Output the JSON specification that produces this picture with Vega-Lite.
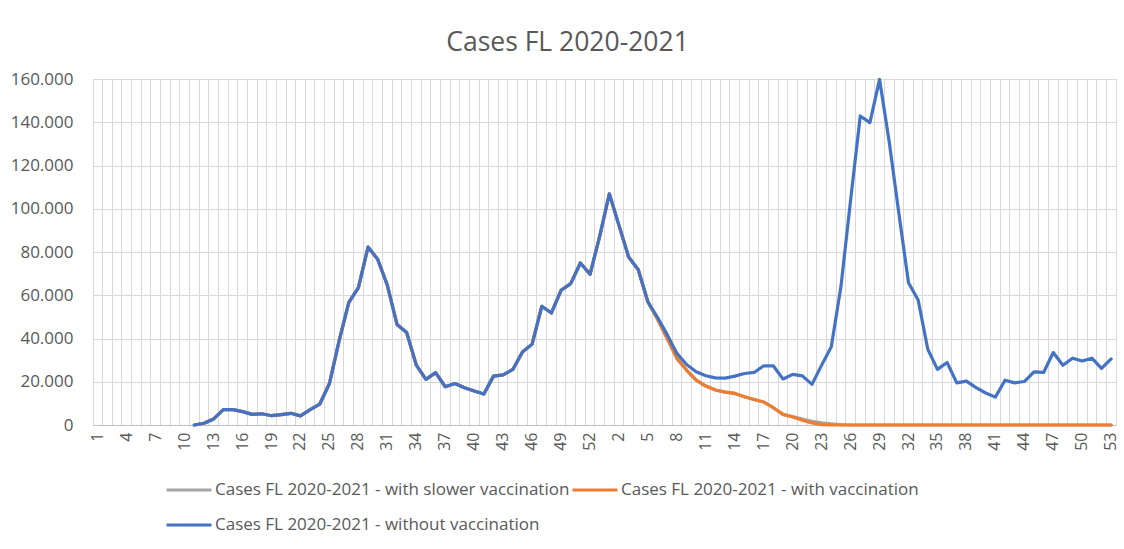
{
  "$schema": "https://vega.github.io/schema/vega-lite/v6.json",
  "autosize": {"type": "none"},
  "width": 1023,
  "height": 346,
  "padding": {"left": 93, "top": 79, "right": 8, "bottom": 124},
  "background": "white",
  "title": {
    "text": "Cases FL 2020-2021",
    "font": "Open Sans",
    "fontSize": 26.5,
    "fontWeight": "normal",
    "color": "#595959",
    "anchor": "middle",
    "frame": "group",
    "baseline": "alphabetic",
    "dx": -37,
    "dy": 33,
    "offset": 26
  },
  "data": {
    "values": [
      {"idx": 0, "year": 2020, "week": 1, "slower": null, "vacc": null, "without": null},
      {"idx": 1, "year": 2020, "week": 2, "slower": null, "vacc": null, "without": null},
      {"idx": 2, "year": 2020, "week": 3, "slower": null, "vacc": null, "without": null},
      {"idx": 3, "year": 2020, "week": 4, "slower": null, "vacc": null, "without": null},
      {"idx": 4, "year": 2020, "week": 5, "slower": null, "vacc": null, "without": null},
      {"idx": 5, "year": 2020, "week": 6, "slower": null, "vacc": null, "without": null},
      {"idx": 6, "year": 2020, "week": 7, "slower": null, "vacc": null, "without": null},
      {"idx": 7, "year": 2020, "week": 8, "slower": null, "vacc": null, "without": null},
      {"idx": 8, "year": 2020, "week": 9, "slower": null, "vacc": null, "without": null},
      {"idx": 9, "year": 2020, "week": 10, "slower": null, "vacc": null, "without": null},
      {"idx": 10, "year": 2020, "week": 11, "slower": 0, "vacc": 0, "without": 0},
      {"idx": 11, "year": 2020, "week": 12, "slower": 800, "vacc": 800, "without": 800},
      {"idx": 12, "year": 2020, "week": 13, "slower": 2800, "vacc": 2800, "without": 2800},
      {"idx": 13, "year": 2020, "week": 14, "slower": 7100, "vacc": 7100, "without": 7100},
      {"idx": 14, "year": 2020, "week": 15, "slower": 7100, "vacc": 7100, "without": 7100},
      {"idx": 15, "year": 2020, "week": 16, "slower": 6200, "vacc": 6200, "without": 6200},
      {"idx": 16, "year": 2020, "week": 17, "slower": 4900, "vacc": 4900, "without": 4900},
      {"idx": 17, "year": 2020, "week": 18, "slower": 5200, "vacc": 5200, "without": 5200},
      {"idx": 18, "year": 2020, "week": 19, "slower": 4300, "vacc": 4300, "without": 4300},
      {"idx": 19, "year": 2020, "week": 20, "slower": 4800, "vacc": 4800, "without": 4800},
      {"idx": 20, "year": 2020, "week": 21, "slower": 5400, "vacc": 5400, "without": 5400},
      {"idx": 21, "year": 2020, "week": 22, "slower": 4200, "vacc": 4200, "without": 4200},
      {"idx": 22, "year": 2020, "week": 23, "slower": 7100, "vacc": 7100, "without": 7100},
      {"idx": 23, "year": 2020, "week": 24, "slower": 9700, "vacc": 9700, "without": 9700},
      {"idx": 24, "year": 2020, "week": 25, "slower": 19200, "vacc": 19200, "without": 19200},
      {"idx": 25, "year": 2020, "week": 26, "slower": 38900, "vacc": 38900, "without": 38900},
      {"idx": 26, "year": 2020, "week": 27, "slower": 56600, "vacc": 56600, "without": 56600},
      {"idx": 27, "year": 2020, "week": 28, "slower": 63500, "vacc": 63500, "without": 63500},
      {"idx": 28, "year": 2020, "week": 29, "slower": 82300, "vacc": 82300, "without": 82300},
      {"idx": 29, "year": 2020, "week": 30, "slower": 76600, "vacc": 76600, "without": 76600},
      {"idx": 30, "year": 2020, "week": 31, "slower": 64600, "vacc": 64600, "without": 64600},
      {"idx": 31, "year": 2020, "week": 32, "slower": 46500, "vacc": 46500, "without": 46500},
      {"idx": 32, "year": 2020, "week": 33, "slower": 42800, "vacc": 42800, "without": 42800},
      {"idx": 33, "year": 2020, "week": 34, "slower": 27700, "vacc": 27700, "without": 27700},
      {"idx": 34, "year": 2020, "week": 35, "slower": 21100, "vacc": 21100, "without": 21100},
      {"idx": 35, "year": 2020, "week": 36, "slower": 24200, "vacc": 24200, "without": 24200},
      {"idx": 36, "year": 2020, "week": 37, "slower": 17700, "vacc": 17700, "without": 17700},
      {"idx": 37, "year": 2020, "week": 38, "slower": 19200, "vacc": 19200, "without": 19200},
      {"idx": 38, "year": 2020, "week": 39, "slower": 17200, "vacc": 17200, "without": 17200},
      {"idx": 39, "year": 2020, "week": 40, "slower": 15700, "vacc": 15700, "without": 15700},
      {"idx": 40, "year": 2020, "week": 41, "slower": 14300, "vacc": 14300, "without": 14300},
      {"idx": 41, "year": 2020, "week": 42, "slower": 22600, "vacc": 22600, "without": 22600},
      {"idx": 42, "year": 2020, "week": 43, "slower": 23200, "vacc": 23200, "without": 23200},
      {"idx": 43, "year": 2020, "week": 44, "slower": 25700, "vacc": 25700, "without": 25700},
      {"idx": 44, "year": 2020, "week": 45, "slower": 33800, "vacc": 33800, "without": 33800},
      {"idx": 45, "year": 2020, "week": 46, "slower": 37400, "vacc": 37400, "without": 37400},
      {"idx": 46, "year": 2020, "week": 47, "slower": 54900, "vacc": 54900, "without": 54900},
      {"idx": 47, "year": 2020, "week": 48, "slower": 51800, "vacc": 51800, "without": 51800},
      {"idx": 48, "year": 2020, "week": 49, "slower": 62300, "vacc": 62300, "without": 62300},
      {"idx": 49, "year": 2020, "week": 50, "slower": 65400, "vacc": 65400, "without": 65400},
      {"idx": 50, "year": 2020, "week": 51, "slower": 74900, "vacc": 74900, "without": 74900},
      {"idx": 51, "year": 2020, "week": 52, "slower": 69700, "vacc": 69700, "without": 69700},
      {"idx": 52, "year": 2020, "week": 53, "slower": 87200, "vacc": 87200, "without": 87200},
      {"idx": 53, "year": 2021, "week": 1, "slower": 106900, "vacc": 106900, "without": 106900},
      {"idx": 54, "year": 2021, "week": 2, "slower": 92300, "vacc": 92300, "without": 92300},
      {"idx": 55, "year": 2021, "week": 3, "slower": 77700, "vacc": 77700, "without": 77700},
      {"idx": 56, "year": 2021, "week": 4, "slower": 71800, "vacc": 71800, "without": 71800},
      {"idx": 57, "year": 2021, "week": 5, "slower": 56900, "vacc": 56900, "without": 56900},
      {"idx": 58, "year": 2021, "week": 6, "slower": 48900, "vacc": 48900, "without": 49700},
      {"idx": 59, "year": 2021, "week": 7, "slower": 40000, "vacc": 40000, "without": 41800},
      {"idx": 60, "year": 2021, "week": 8, "slower": 30800, "vacc": 30800, "without": 33100},
      {"idx": 61, "year": 2021, "week": 9, "slower": 25400, "vacc": 25400, "without": 28000},
      {"idx": 62, "year": 2021, "week": 10, "slower": 20800, "vacc": 20800, "without": 24600},
      {"idx": 63, "year": 2021, "week": 11, "slower": 18000, "vacc": 18000, "without": 22800},
      {"idx": 64, "year": 2021, "week": 12, "slower": 16200, "vacc": 16200, "without": 21800},
      {"idx": 65, "year": 2021, "week": 13, "slower": 15200, "vacc": 15200, "without": 21700},
      {"idx": 66, "year": 2021, "week": 14, "slower": 14600, "vacc": 14600, "without": 22600},
      {"idx": 67, "year": 2021, "week": 15, "slower": 13100, "vacc": 13100, "without": 23800},
      {"idx": 68, "year": 2021, "week": 16, "slower": 11800, "vacc": 11800, "without": 24300},
      {"idx": 69, "year": 2021, "week": 17, "slower": 10600, "vacc": 10600, "without": 27400},
      {"idx": 70, "year": 2021, "week": 18, "slower": 8000, "vacc": 8000, "without": 27300},
      {"idx": 71, "year": 2021, "week": 19, "slower": 4900, "vacc": 4900, "without": 21300},
      {"idx": 72, "year": 2021, "week": 20, "slower": 3900, "vacc": 3700, "without": 23400},
      {"idx": 73, "year": 2021, "week": 21, "slower": 2700, "vacc": 2200, "without": 22700},
      {"idx": 74, "year": 2021, "week": 22, "slower": 1700, "vacc": 1000, "without": 18800},
      {"idx": 75, "year": 2021, "week": 23, "slower": 1000, "vacc": 200, "without": 27700},
      {"idx": 76, "year": 2021, "week": 24, "slower": 500, "vacc": 0, "without": 36200},
      {"idx": 77, "year": 2021, "week": 25, "slower": 200, "vacc": 0, "without": 64000},
      {"idx": 78, "year": 2021, "week": 26, "slower": 0, "vacc": 0, "without": 104000},
      {"idx": 79, "year": 2021, "week": 27, "slower": 0, "vacc": 0, "without": 142900},
      {"idx": 80, "year": 2021, "week": 28, "slower": 0, "vacc": 0, "without": 139800},
      {"idx": 81, "year": 2021, "week": 29, "slower": 0, "vacc": 0, "without": 159800},
      {"idx": 82, "year": 2021, "week": 30, "slower": 0, "vacc": 0, "without": 131000},
      {"idx": 83, "year": 2021, "week": 31, "slower": 0, "vacc": 0, "without": 97900},
      {"idx": 84, "year": 2021, "week": 32, "slower": 0, "vacc": 0, "without": 65800},
      {"idx": 85, "year": 2021, "week": 33, "slower": 0, "vacc": 0, "without": 57800},
      {"idx": 86, "year": 2021, "week": 34, "slower": 0, "vacc": 0, "without": 35000},
      {"idx": 87, "year": 2021, "week": 35, "slower": 0, "vacc": 0, "without": 25700},
      {"idx": 88, "year": 2021, "week": 36, "slower": 0, "vacc": 0, "without": 28900},
      {"idx": 89, "year": 2021, "week": 37, "slower": 0, "vacc": 0, "without": 19500},
      {"idx": 90, "year": 2021, "week": 38, "slower": 0, "vacc": 0, "without": 20300},
      {"idx": 91, "year": 2021, "week": 39, "slower": 0, "vacc": 0, "without": 17300},
      {"idx": 92, "year": 2021, "week": 40, "slower": 0, "vacc": 0, "without": 14800},
      {"idx": 93, "year": 2021, "week": 41, "slower": 0, "vacc": 0, "without": 12900},
      {"idx": 94, "year": 2021, "week": 42, "slower": 0, "vacc": 0, "without": 20700},
      {"idx": 95, "year": 2021, "week": 43, "slower": 0, "vacc": 0, "without": 19500},
      {"idx": 96, "year": 2021, "week": 44, "slower": 0, "vacc": 0, "without": 20100},
      {"idx": 97, "year": 2021, "week": 45, "slower": 0, "vacc": 0, "without": 24600},
      {"idx": 98, "year": 2021, "week": 46, "slower": 0, "vacc": 0, "without": 24300},
      {"idx": 99, "year": 2021, "week": 47, "slower": 0, "vacc": 0, "without": 33500},
      {"idx": 100, "year": 2021, "week": 48, "slower": 0, "vacc": 0, "without": 27600},
      {"idx": 101, "year": 2021, "week": 49, "slower": 0, "vacc": 0, "without": 30900},
      {"idx": 102, "year": 2021, "week": 50, "slower": 0, "vacc": 0, "without": 29600},
      {"idx": 103, "year": 2021, "week": 51, "slower": 0, "vacc": 0, "without": 30900},
      {"idx": 104, "year": 2021, "week": 52, "slower": 0, "vacc": 0, "without": 26200},
      {"idx": 105, "year": 2021, "week": 53, "slower": 0, "vacc": 0, "without": 30600}
    ]
  },
  "transform": [
    {"fold": ["slower", "vacc", "without"], "as": ["key", "cases"]},
    {"lookup": "key", "from": {"data": {"values": [
      {"key": "slower", "series": "Cases FL 2020-2021 - with slower vaccination"},
      {"key": "vacc", "series": "Cases FL 2020-2021 - with vaccination"},
      {"key": "without", "series": "Cases FL 2020-2021 - without vaccination"}
    ]}, "key": "key", "fields": ["series"]}}
  ],
  "mark": {"type": "line", "strokeWidth": 3.2, "strokeJoin": "round", "strokeCap": "round", "invalid": "break-paths-show-domains"},
  "encoding": {
    "x": {
      "field": "idx",
      "type": "ordinal",
      "bandPosition": 0.5,
      "scale": {"type": "band", "paddingInner": 0, "paddingOuter": 0},
      "axis": {
        "title": null,
        "grid": true,
        "gridColor": "#d9d9d9",
        "gridWidth": 1,
        "bandPosition": 0,
        "ticks": false,
        "domain": true,
        "domainColor": "#bfbfbf",
        "domainWidth": 1,
        "labelAngle": 270,
        "labelAlign": "right",
        "labelBaseline": "middle",
        "labelOverlap": false,
        "labelPadding": 7,
        "labelFont": "Open Sans",
        "labelFontSize": 16,
        "labelColor": "#595959",
        "labelExpr": "datum.value % 3 == 0 ? (datum.value < 53 ? '' + (datum.value + 1) : '' + (datum.value - 52)) : ''"
      }
    },
    "y": {
      "field": "cases",
      "type": "quantitative",
      "scale": {"domain": [0, 160000], "nice": false},
      "axis": {
        "title": null,
        "values": [0, 20000, 40000, 60000, 80000, 100000, 120000, 140000, 160000],
        "grid": true,
        "gridColor": "#d9d9d9",
        "gridWidth": 1,
        "ticks": false,
        "domain": false,
        "labelPadding": 20,
        "labelFont": "Open Sans",
        "labelFontSize": 17,
        "labelColor": "#595959",
        "labelExpr": "datum.value == 0 ? '0' : replace(format(datum.value, ','), ',', '.')"
      }
    },
    "color": {
      "field": "series",
      "type": "nominal",
      "scale": {
        "domain": ["Cases FL 2020-2021 - with slower vaccination", "Cases FL 2020-2021 - with vaccination", "Cases FL 2020-2021 - without vaccination"],
        "range": ["#A5A5A5", "#ED7D31", "#4472C4"]
      },
      "legend": {
        "title": null,
        "orient": "none",
        "legendX": 72,
        "legendY": 387,
        "direction": "horizontal",
        "columns": 2,
        "symbolType": "stroke",
        "symbolSize": 2025,
        "symbolStrokeWidth": 3,
        "labelOffset": 2,
        "labelFont": "Open Sans",
        "labelFontSize": 17,
        "labelColor": "#595959",
        "labelLimit": 0,
        "columnPadding": -4,
        "rowPadding": 3
      }
    }
  },
  "config": {
    "view": {"stroke": "#d9d9d9", "strokeWidth": 1}
  }
}
